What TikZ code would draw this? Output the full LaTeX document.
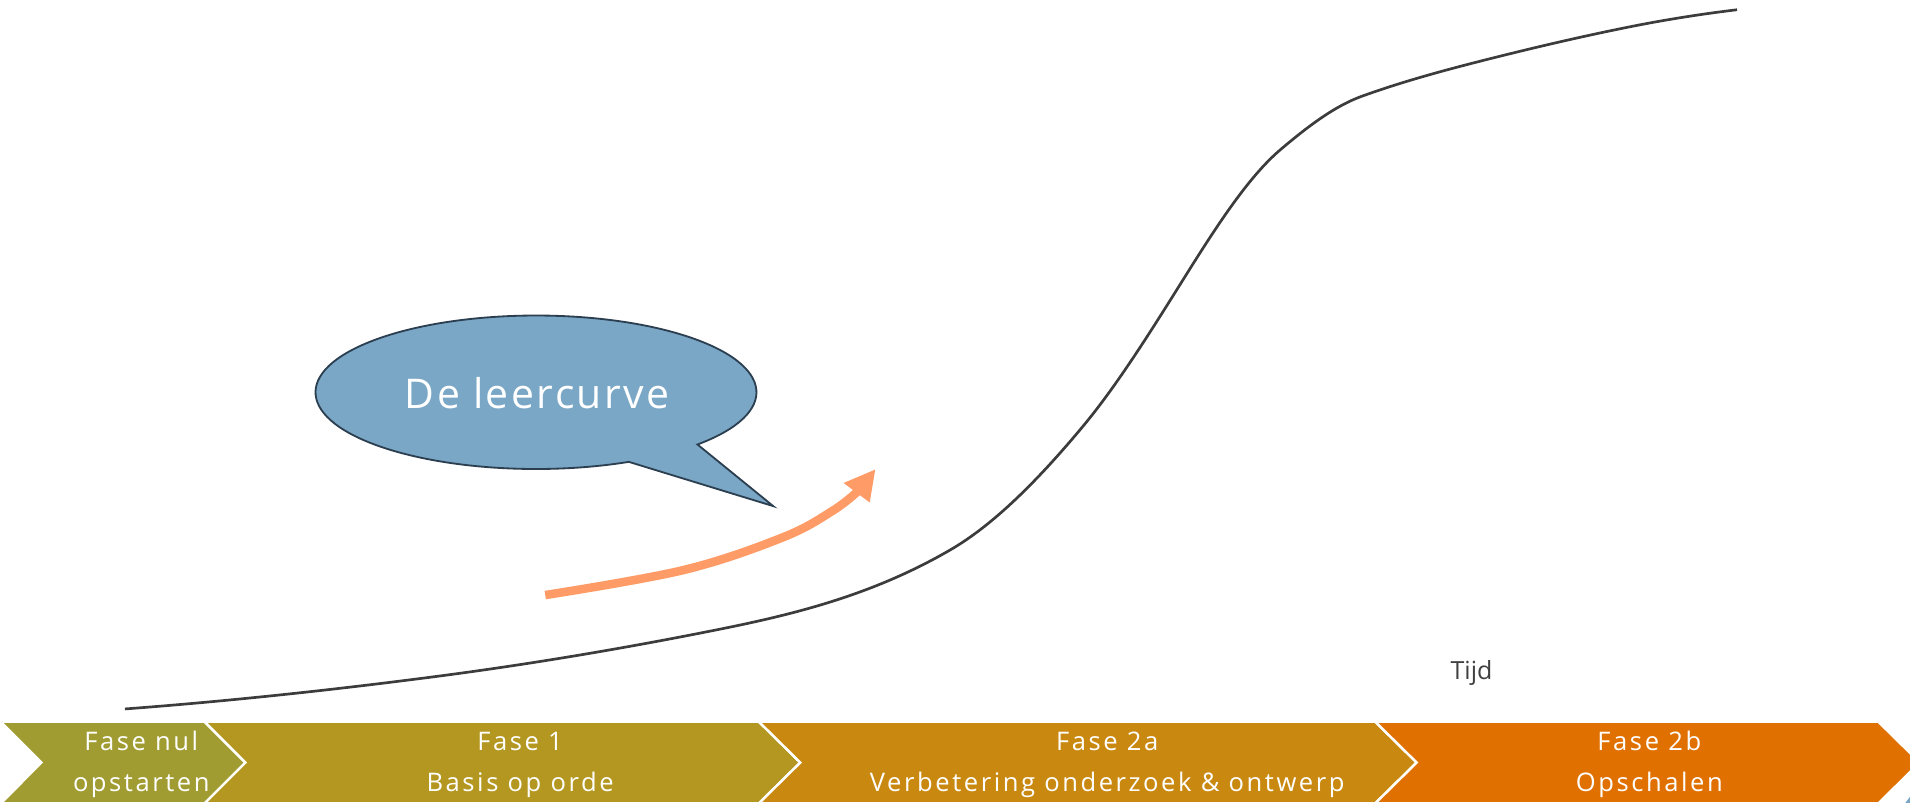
\documentclass[tikz,border=0pt]{standalone}
\usepackage{fontspec}
\setmainfont{Open Sans}
\newfontfamily\chevfont[LetterSpace=10]{Open Sans}
\newfontfamily\bubfont[LetterSpace=6]{Open Sans}
\definecolor{cnul}{HTML}{A09C32}
\definecolor{cone}{HTML}{B39720}
\definecolor{ctwoa}{HTML}{C98911}
\definecolor{ctwob}{HTML}{E07000}
\definecolor{bubfill}{HTML}{7BA7C6}
\definecolor{bubline}{HTML}{2B3F50}
\definecolor{arrowor}{HTML}{FF9B66}
\definecolor{curvegray}{HTML}{3C3C3C}
\definecolor{tijdgray}{HTML}{404040}
\begin{document}
\begin{tikzpicture}[x=1pt,y=-1pt,
  chev/.style={draw=white,line width=2pt,line join=miter},
  phase/.style={text=white,font=\chevfont\fontsize{21}{24}\selectfont,anchor=base,inner sep=0pt},
  curve/.style={draw=curvegray,line width=2.2pt},
  bubtext/.style={text=white,font=\bubfont\fontsize{33.6}{40}\selectfont,anchor=base,inner sep=0pt},
  tijdtext/.style={text=tijdgray,font=\fontsize{20.5}{24}\selectfont,anchor=base,inner sep=0pt}]
\useasboundingbox (0,0) rectangle (1568,659.2);
\clip (0,0) rectangle (1568,659.2);
% chevrons
\path[chev,fill=cnul] (0.6,592.5) -- (168,592.5) -- (201.5,626) -- (168,659.5) -- (0.6,659.5) -- (34,626) -- cycle;
\path[chev,fill=cone] (168,592.5) -- (623,592.5) -- (657,626) -- (623,659.5) -- (168,659.5) -- (201.5,626) -- cycle;
\path[chev,fill=ctwoa] (623,592.5) -- (1129,592.5) -- (1163,626) -- (1129,659.5) -- (623,659.5) -- (657,626) -- cycle;
\path[chev,fill=ctwob] (1129,592.5) -- (1542,592.5) -- (1576,626) -- (1542,659.5) -- (1129,659.5) -- (1163,626) -- cycle;
\path[fill=bubfill] (1563.5,660) -- (1568,654) -- (1568,660) -- cycle;
% phase texts
\node[phase] (p0a) at (116,616) {Fase nul};
\node[phase] (p0b) at (116,650) {opstarten};
\node[phase] (p1a) at (427,616) {Fase 1};
\node[phase] (p1b) at (427,650) {Basis op orde};
\node[phase] (p2a) at (909,616) {Fase 2a};
\node[phase] (p2b) at (909,650) {Verbetering onderzoek \& ontwerp};
\node[phase] (p3a) at (1354,616) {Fase 2b};
\node[phase] (p3b) at (1354,650) {Opschalen};
% learning curve
\draw[curve] (102.6,582)
  .. controls (187.07,575.66) and (271.53,566.58) .. (356,555.6)
  .. controls (433.53,545.52) and (511.07,532.51) .. (588.6,517)
  .. controls (652.4,504.24) and (716.2,488.5) .. (780,451.5)
  .. controls (816.33,430.43) and (852.67,393.6) .. (889,350)
  .. controls (916.33,317.2) and (943.67,273.73) .. (971,230)
  .. controls (997.67,187.33) and (1024.33,145.67) .. (1051,123)
  .. controls (1073.33,104.02) and (1095.67,87.04) .. (1118,79)
  .. controls (1154.67,65.8) and (1191.33,56.17) .. (1228,47)
  .. controls (1264.67,37.83) and (1301.33,29.33) .. (1338,22)
  .. controls (1367.33,16.13) and (1396.67,11.52) .. (1426,8);
% speech bubble
\draw[fill=bubfill,draw=bubline,line width=1.5pt,line join=miter] (572.6,364.9) arc[start angle=42.9,end angle=-294.9,x radius=181,y radius=63] -- (634.8,415.5) -- cycle;
\node[bubtext] (bub) at (441,335) {De leercurve};
% orange arrow
\draw[arrowor,line width=7pt] plot[smooth,tension=0.6] coordinates {(447.6,488.5) (561,468) (643,441) (684,419) (704,403.5)};
\fill[arrowor] (692.5,396.5) -- (718.5,385.5) -- (714,412.5) -- cycle;
% axis label
\node[tijdtext] (tijd) at (1208,558) {Tijd};
\end{tikzpicture}
\end{document}
